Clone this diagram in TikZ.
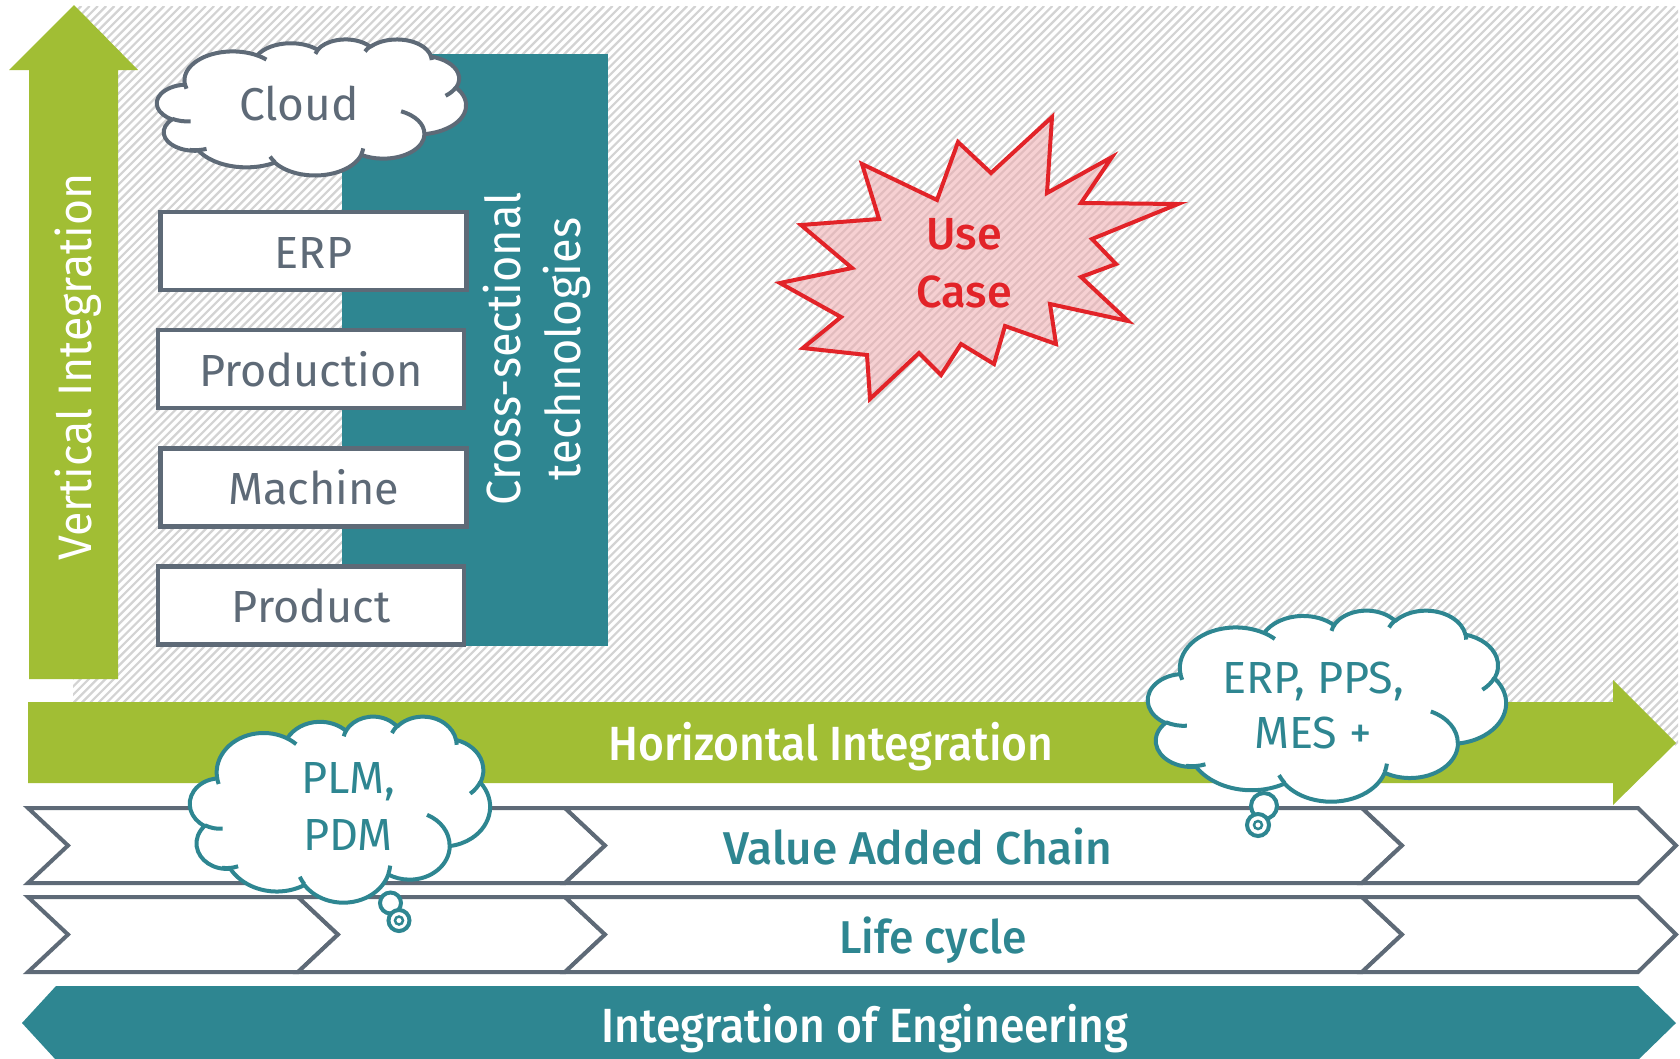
\documentclass[tikz,border=0pt]{standalone}
\usepackage{fontspec}
\setmainfont{Fira Sans}
\newfontfamily\medfont{Fira Sans Medium}
\definecolor{vgreen}{RGB}{161,190,52}
\definecolor{vteal}{RGB}{46,134,145}
\definecolor{vgray}{RGB}{94,106,119}
\definecolor{vhatch}{RGB}{211,211,211}
\definecolor{vred}{RGB}{226,35,40}
\definecolor{vpink}{RGB}{240,170,174}
\newcommand{\fsz}[2]{\fontsize{#1}{#2}\selectfont}
\tikzset{
  hatchline/.style={vhatch, line width=2.2pt},
  layerbox/.style={draw=vgray, line width=4.5pt, fill=white, minimum width=306pt, minimum height=78pt, inner sep=0pt},
  boxlabel/.style={anchor=base, text=vgray, font=\fsz{45}{54}, inner sep=0pt},
  chev/.style={draw=vgray, line width=4pt, fill=white, line join=miter},
  tealtext/.style={text=vteal, font=\medfont\fsz{46}{54}, inner sep=0pt},
  whitetext/.style={text=white, font=\medfont\fsz{48}{56}, inner sep=0pt},
  bubble/.style={circle, draw=vteal, fill=white, line width=4pt, inner sep=0pt},
}
% PowerPoint-like cloud: colour, left, top, width, height (pixels)
\newcommand{\pptcloud}[5]{%
\pgfmathsetmacro{\pcx}{#4/432}\pgfmathsetmacro{\pcy}{#5/432}%
\begin{scope}[shift={(#2,#3)}, x=\pcx pt, y=-\pcy pt]
\filldraw[fill=white, draw=#1, line width=4pt, line join=round] (39,143.70)
  arc[start angle=172.26, end angle=300.36, x radius=67.53, y radius=91.90]
  arc[start angle=-152.03, end angle=-45.46, x radius=53.33, y radius=72.67]
  arc[start angle=-153.49, end angle=-37.33, x radius=43.65, y radius=59.45]
  arc[start angle=-139.71, end angle=-10.21, x radius=48.57, y radius=65.95]
  arc[start angle=-74.77, end angle=23.21, x radius=53.33, y radius=72.73]
  arc[start angle=-37.53, end angle=81.86, x radius=67.75, y radius=92.20]
  arc[start angle=0.46, end angle=121.98, x radius=57.85, y radius=78.67]
  arc[start angle=16.84, end angle=146.26, x radius=67.52, y radius=92.15]
  arc[start angle=58.99, end angle=150.19, x radius=77.20, y radius=105.43]
  arc[start angle=83.31, end angle=223.10, x radius=43.60, y radius=59.18]
  arc[start angle=120.36, end angle=264.11, x radius=43.45, y radius=59.45]
  -- cycle;
\draw[#1, line width=4pt]
  (46.93,261.77) arc[start angle=85.55, end angle=120.36, x radius=43.45, y radius=59.45]
  (69.28,348.99) arc[start angle=68.23, end angle=99.41, x radius=43.60, y radius=59.18]
  (164.78,390.90) arc[start angle=146.26, end angle=158.48, x radius=67.52, y radius=92.15]
  (288.27,347.51) arc[start angle=4.74, end angle=16.84, x radius=67.52, y radius=92.15]
  (341.29,229.54) arc[start angle=-64.03, end angle=0.46, x radius=57.85, y radius=78.67]
  (417.98,153.54) arc[start angle=23.21, end angle=49.65, x radius=53.33, y radius=72.73]
  (383.24,54.26) arc[start angle=-10.21, end angle=0.82, x radius=48.57, y radius=65.95]
  (290.78,39.52) arc[start angle=-156.29, end angle=-139.71, x radius=48.57, y radius=65.95]
  (221.41,47.20) arc[start angle=-167.73, end angle=-153.49, x radius=43.65, y radius=59.45]
  (140.00,51.92) arc[start angle=-59.64, end angle=-45.74, x radius=67.53, y radius=91.90]
  (41.27,157.89) arc[start angle=163.19, end angle=172.25, x radius=67.53, y radius=91.90];
\end{scope}}
\begin{document}
\begin{tikzpicture}[x=1pt,y=-1pt]
\useasboundingbox (0,0) rectangle (1680,1058);
\fill[white] (0,0) rectangle (1680,1058);
% hatched background
\begin{scope}
  \clip (73,6) rectangle (1678,745);
  \foreach \i in {0,...,284} \draw[hatchline] ({-666+8.3*\i},745) -- ++(739,-739);
\end{scope}
% vertical integration arrow
\fill[vgreen] (29,679) -- (29,70) -- (9,70) -- (74,5) -- (138,70) -- (118,70) -- (118,679) -- cycle;
\node[text=white, font=\fsz{47}{56}, anchor=base, rotate=90, inner sep=0pt] (vint) at (91.5,367) {\scalebox{0.95}[1]{Vertical Integration}};
% cross-sectional block
\fill[vteal] (342,54) rectangle (608,646);
\node[text=white, font=\fsz{48}{60}, rotate=90, inner sep=0pt] (cross) at (538,349) {\scalebox{0.94}[1]{\begin{tabular}{@{}c@{}}Cross-sectional\\technologies\end{tabular}}};
% cloud
\pptcloud{vgray}{157}{39}{309}{136}
\node[boxlabel, font=\fsz{46}{54}] (cloudlbl) at (299,120) {Cloud};
% layer boxes
\node[layerbox] (erp) at (313.5,251) {};
\node[boxlabel] (erplbl) at (313.5,268) {ERP};
\node[layerbox] (prod) at (311,369) {};
\node[boxlabel] (prodlbl) at (311,386) {Production};
\node[layerbox] (mach) at (313.5,487.5) {};
\node[boxlabel] (machlbl) at (313.5,504) {Machine};
\node[layerbox] (prodt) at (311,605.5) {};
\node[boxlabel] (prodtlbl) at (311,622) {Product};
% use case star
\filldraw[draw=vred, fill=vpink, fill opacity=0.55, line width=4pt, line join=miter]
  (1052,117) -- (1047,193) -- (1112,157) -- (1081,203) -- (1178,204) -- (1092,239) -- (1116,264) -- (1081,277)
  -- (1128,321) -- (1050,304) -- (1056,344) -- (1005,326) -- (994,364) -- (961,344) -- (941,375) -- (919,353)
  -- (870,399) -- (867,355) -- (803,348) -- (841,317) -- (780,283) -- (852,268) -- (801,225) -- (879,219)
  -- (862,164) -- (937,200) -- (958,142) -- (991,173) -- cycle;
\node[text=vred, font=\medfont\fsz{45}{58}, align=center, inner sep=0pt] (usecase) at (964,263) {Use\\Case};
% horizontal integration arrow
\fill[vgreen] (28,702) -- (1613,702) -- (1613,680) -- (1676,743) -- (1613,805) -- (1613,783) -- (28,783) -- cycle;
\node[whitetext, anchor=base] (hint) at (831,760) {\scalebox{0.925}[1]{Horizontal Integration}};
% value added chain row
\draw[chev] (28,808) -- (565,808) -- (605,845.5) -- (565,883) -- (28,883) -- (68,845.5) -- cycle;
\draw[chev] (565,808) -- (1362,808) -- (1402,845.5) -- (1362,883) -- (565,883) -- (605,845.5) -- cycle;
\draw[chev] (1362,808) -- (1638,808) -- (1676,845.5) -- (1638,883) -- (1362,883) -- (1402,845.5) -- cycle;
\node[tealtext, anchor=base] (vac) at (918,864) {Value Added Chain};
% life cycle row
\draw[chev] (28,897) -- (298,897) -- (338,934.5) -- (298,972) -- (28,972) -- (68,934.5) -- cycle;
\draw[chev] (298,897) -- (565,897) -- (605,934.5) -- (565,972) -- (298,972) -- (338,934.5) -- cycle;
\draw[chev] (565,897) -- (1362,897) -- (1402,934.5) -- (1362,972) -- (565,972) -- (605,934.5) -- cycle;
\draw[chev] (1362,897) -- (1638,897) -- (1676,934.5) -- (1638,972) -- (1362,972) -- (1402,934.5) -- cycle;
\node[tealtext, anchor=base] (lc) at (933,953) {\scalebox{0.965}[1]{Life cycle}};
% integration of engineering
\fill[vteal] (22,1023) -- (56,986) -- (1638,986) -- (1676,1023) -- (1638,1060) -- (56,1060) -- cycle;
\node[whitetext, anchor=base] (ieng) at (865,1042) {\scalebox{0.925}[1]{Integration of Engineering}};
% PLM cloud
\pptcloud{vteal}{190}{716}{300}{186}
\node[bubble, minimum size=21pt] (plmb1) at (390.5,903) {};
\node[bubble, minimum size=21pt] (plmb2) at (399,920.5) {};
\draw[vteal, line width=2.5pt] (plmb2.center) circle[radius=4pt];
\node[text=vteal, font=\fsz{45}{57}, align=center, inner sep=0pt] (plmtxt) at (348,806) {PLM,\\PDM};
% ERP cloud
\pptcloud{vteal}{1148}{610}{358}{191}
\node[bubble, minimum size=26pt] (erpb1) at (1264,806) {};
\node[bubble, minimum size=22pt] (erpb2) at (1258,825) {};
\draw[vteal, line width=2.5pt] (erpb2.center) circle[radius=4pt];
\node[text=vteal, font=\fsz{45}{55}, align=center, inner sep=0pt] (erptxt) at (1313,705) {ERP, PPS,\\MES +};
\end{tikzpicture}
\end{document}
